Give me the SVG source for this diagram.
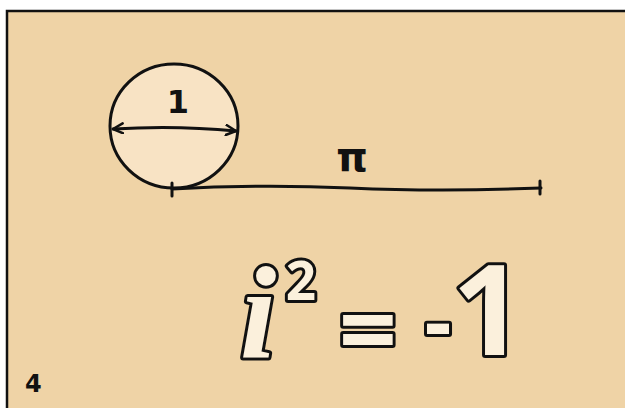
<svg xmlns="http://www.w3.org/2000/svg" width="625" height="408" viewBox="0 0 625 408">
<defs>
<style>
.ink{fill:none;stroke:#111;stroke-width:3;stroke-linecap:round;stroke-linejoin:round}
.lbl{font-family:"DejaVu Sans",sans-serif;font-weight:bold;fill:#111}
.big{font-family:"Open Sans",sans-serif;font-weight:bold;fill:#FBF0DC;stroke:#111;stroke-width:6;paint-order:stroke;stroke-linejoin:round}
</style>
<marker id="ah" viewBox="0 0 12 12" refX="11" refY="6" markerWidth="12" markerHeight="12" markerUnits="userSpaceOnUse" orient="auto-start-reverse">
<path d="M1,1 L11,6 L1,11" fill="none" stroke="#111" stroke-width="2.5" stroke-linecap="round" stroke-linejoin="round"/>
</marker>
</defs>
<rect width="625" height="408" fill="#ffffff"/>
<rect x="7" y="11" width="625" height="400" fill="#EFD3A6" stroke="#111" stroke-width="2.5"/>
<g id="circle">
<ellipse cx="174" cy="126" rx="64" ry="62" class="ink" style="fill:#F8E3C4"/>
<path d="M113,129 Q175,125 236,131" class="ink" marker-start="url(#ah)" marker-end="url(#ah)"/>
<text x="178" y="113" class="lbl" font-size="32" text-anchor="middle">1</text>
</g>
<g id="connectors">
<path d="M172,189 Q260,184 350,188 T541,188" class="ink"/>
<path d="M172,183 L172,196 M540,181 L540,194" class="ink"/>
</g>
<g id="pi">
<text x="352" y="171" class="lbl" font-size="40" text-anchor="middle">π</text>
</g>
<g id="equation">
<text x="258" y="357" class="big" font-size="132" text-anchor="middle" style="font-family:'Liberation Serif',serif;font-style:italic">i</text>
<text x="301" y="300" class="big" font-size="53" text-anchor="middle">2</text>
<text x="368" y="366" class="big" font-size="102" text-anchor="middle">=</text>
<text x="438" y="352" class="big" font-size="84" text-anchor="middle">-</text>
<text x="488" y="355" class="big" font-size="126" text-anchor="middle">1</text>
</g>
<g id="num">
<text x="25" y="392" class="lbl" font-size="24">4</text>
</g>
</svg>
